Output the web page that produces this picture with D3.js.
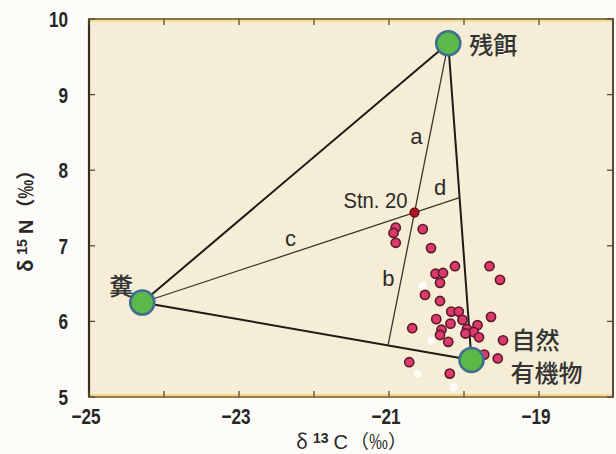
<!DOCTYPE html>
<html><head><meta charset="utf-8">
<script src="https://cdn.jsdelivr.net/npm/d3@7"></script>
<style>body{margin:0;background:#fdfcf9;} svg{display:block}</style>
</head><body>
<svg id="c" width="616" height="454"></svg>
<script>
// ---- data ----
const xTickValues = [-25, -24, -23, -22, -21, -20, -19];
const xLabelValues = [-25, -23, -21, -19];
const yTickValues = [5, 6, 7, 8, 9, 10];
const endNames = ["残餌", "糞", "自然有機物"];
const endX = [-20.21, -24.29, -19.90];
const endY = [9.68, 6.25, 5.49];
const stnName = "Stn. 20";
const stnX = [-20.66];
const stnY = [7.44];
const sampleX = [-20.91, -20.94, -20.91, -20.55, -20.44, -20.12, -19.66, -19.52, -20.38, -20.28,
                 -20.32, -20.52, -20.32, -20.17, -20.07, -19.64, -20.37, -20.18, -20.02, -19.82,
                 -20.69, -20.30, -20.32, -19.96, -19.87, -19.98, -19.80, -20.21, -19.48, -19.73,
                 -19.55, -20.73, -20.19];
const sampleY = [7.24, 7.17, 7.04, 7.22, 6.97, 6.73, 6.73, 6.55, 6.63, 6.64,
                 6.51, 6.35, 6.27, 6.13, 6.13, 6.06, 6.03, 5.97, 6.02, 5.95,
                 5.91, 5.89, 5.82, 5.90, 5.86, 5.84, 5.79, 5.73, 5.75, 5.56,
                 5.51, 5.46, 5.31];
const faintX = [-20.55, -20.43, -20.62, -20.14];
const faintY = [6.47, 5.74, 5.31, 5.13];
const segLabels = ["a", "b", "c", "d"];
const xTitle = ["δ", "13", "C", "（‰）"];
const yTitle = ["δ", "15", "N", "（‰）"];

// ---- scales ----
const x = d3.scaleLinear().domain([-25, -18]).range([89, 614]);
const y = d3.scaleLinear().domain([5, 10]).range([397, 19]);

const svg = d3.select("#c");
const numFont = "'Liberation Sans',Arial,sans-serif";
const cjkFont = "'Noto Sans CJK JP','Noto Sans CJK SC',sans-serif";

// plot frame
const x0 = x(-25), x1 = x(-18) - 1, y0 = y(10), y1 = y(5);
svg.append("rect").attr("x", x0).attr("y", y0).attr("width", x1 - x0).attr("height", y1 - y0)
  .attr("fill", "#f6edd6");
svg.append("line").attr("x1", x0).attr("x2", x1).attr("y1", y0 + 2).attr("y2", y0 + 2).attr("stroke", "#f0dc8a").attr("stroke-width", 1.5);
svg.append("line").attr("x1", x0).attr("x2", x1).attr("y1", y1 - 2).attr("y2", y1 - 2).attr("stroke", "#ecd57e").attr("stroke-width", 1.5);
svg.append("line").attr("x1", x0 - 1).attr("x2", x1 + 1).attr("y1", y0).attr("y2", y0).attr("stroke", "#8d7444").attr("stroke-width", 2.2);
svg.append("line").attr("x1", x0 - 1).attr("x2", x1 + 1).attr("y1", y1).attr("y2", y1).attr("stroke", "#9a8048").attr("stroke-width", 2.2);
svg.append("line").attr("x1", x0).attr("x2", x0).attr("y1", y0).attr("y2", y1).attr("stroke", "#3a2c1c").attr("stroke-width", 2.2);
svg.append("line").attr("x1", x1).attr("x2", x1).attr("y1", y0).attr("y2", y1).attr("stroke", "#4a3c28").attr("stroke-width", 1.8);

// ticks (inward on all four sides)
const tk = 6;
const tg = svg.append("g").attr("stroke", "#5a4a30").attr("stroke-width", 1.3);
xTickValues.forEach(v => {
  tg.append("line").attr("x1", x(v)).attr("x2", x(v)).attr("y1", y0).attr("y2", y0 + tk);
  tg.append("line").attr("x1", x(v)).attr("x2", x(v)).attr("y1", y1).attr("y2", y1 - tk);
});
yTickValues.forEach(v => {
  tg.append("line").attr("x1", x0).attr("x2", x0 + tk).attr("y1", y(v)).attr("y2", y(v));
  tg.append("line").attr("x1", x1).attr("x2", x1 - tk).attr("y1", y(v)).attr("y2", y(v));
});

// tick labels (condensed look)
svg.append("g").selectAll("text").data(xLabelValues).join("text")
  .attr("transform", d => `translate(${x(d) - 3},424) scale(0.78,1)`).attr("text-anchor", "middle")
  .attr("font-family", numFont).attr("font-size", 22).attr("font-weight", "bold").attr("fill", "#262626")
  .text(d => "−" + Math.abs(d));
svg.append("g").selectAll("text").data(yTickValues).join("text")
  .attr("transform", d => `translate(68,${y(d) + 8}) scale(0.78,1)`).attr("text-anchor", "end")
  .attr("font-family", numFont).attr("font-size", 22).attr("font-weight", "bold").attr("fill", "#262626")
  .text(d => d);

// axis titles
function title(sel, parts) {
  sel.append("tspan").attr("font-family", cjkFont).attr("font-size", 20).text(parts[0]);
  sel.append("tspan").attr("dx", 5).attr("dy", -6).attr("font-size", 14).attr("font-weight", "bold").text(parts[1]);
  sel.append("tspan").attr("dx", 5).attr("dy", 6).attr("font-size", 20).text(parts[2]);
  sel.append("tspan").attr("dx", 2).attr("font-family", cjkFont).attr("font-size", 19).text(parts[3]);
}
const xt = svg.append("text").attr("x", 296).attr("y", 449)
  .attr("font-family", numFont).attr("fill", "#2a2a2a");
title(xt, xTitle);
const yt = svg.append("text").attr("transform", "translate(33,272) rotate(-90)")
  .attr("font-family", numFont).attr("font-weight", "bold").attr("fill", "#2a2a2a");
title(yt, yTitle);

// ---- geometry of mixing lines ----
const P = endX.map((v, i) => [v, endY[i]]);
const S = [stnX[0], stnY[0]];
function intersect(a, b, c, d) {
  const den = (a[0] - b[0]) * (c[1] - d[1]) - (a[1] - b[1]) * (c[0] - d[0]);
  const t = ((a[0] - c[0]) * (c[1] - d[1]) - (a[1] - c[1]) * (c[0] - d[0])) / den;
  return [a[0] + t * (b[0] - a[0]), a[1] + t * (b[1] - a[1])];
}
const footB = intersect(P[0], S, P[1], P[2]);  // from 残餌 through Stn to opposite side
const footD = intersect(P[1], S, P[0], P[2]);  // from 糞 through Stn to opposite side
const line = d3.line().x(d => x(d[0])).y(d => y(d[1]));

// triangle
svg.append("path").attr("d", line([P[0], P[1], P[2], P[0]]))
  .attr("fill", "none").attr("stroke", "#1e1a16").attr("stroke-width", 2).attr("stroke-linejoin", "round");
// inner lines
svg.append("path").attr("d", line([P[0], footB])).attr("fill", "none").attr("stroke", "#3a3530").attr("stroke-width", 1.3);
svg.append("path").attr("d", line([P[1], footD])).attr("fill", "none").attr("stroke", "#3a3530").attr("stroke-width", 1.3);

// segment labels
const mid = (p, q) => [(x(p[0]) + x(q[0])) / 2, (y(p[1]) + y(q[1])) / 2];
const segs = [[P[0], S, -15, 9], [S, footB, -13, 0], [P[1], S, 12, -19], [S, footD, 3, -17]];
svg.append("g").selectAll("text").data(segs).join("text")
  .attr("x", d => mid(d[0], d[1])[0] + d[2]).attr("y", d => mid(d[0], d[1])[1] + d[3] + 7)
  .attr("text-anchor", "middle").attr("font-family", "'Liberation Sans',Arial,sans-serif")
  .attr("font-size", 22).attr("fill", "#2a2a2a")
  .text((d, i) => segLabels[i]);

// faint white samples
svg.append("g").selectAll("circle").data(faintX).join("circle")
  .attr("cx", d => x(d)).attr("cy", (d, i) => y(faintY[i])).attr("r", 4)
  .attr("fill", "#ffffff").attr("opacity", 0.85);

// samples
svg.append("g").selectAll("circle").data(sampleX).join("circle")
  .attr("cx", d => x(d)).attr("cy", (d, i) => y(sampleY[i])).attr("r", 4.6)
  .attr("fill", "#dc3a6a").attr("stroke", "#5a1a2c").attr("stroke-width", 1.6);

// Stn. 20
svg.append("circle").attr("cx", x(S[0])).attr("cy", y(S[1])).attr("r", 4.5)
  .attr("fill", "#b0141c").attr("stroke", "#5a0c10").attr("stroke-width", 1.2);
svg.append("text").attr("transform", `translate(${x(S[0]) - 7},${y(S[1]) - 5}) scale(0.92,1)`).attr("text-anchor", "end")
  .attr("font-family", numFont).attr("font-size", 22).attr("fill", "#2a2a2a").text(stnName);

// end members
svg.append("g").selectAll("circle").data(P).join("circle")
  .attr("cx", d => x(d[0])).attr("cy", d => y(d[1])).attr("r", 12)
  .attr("fill", "#5cb848").attr("stroke", "#3d6f92").attr("stroke-width", 2.6);

const lab = svg.append("g").attr("font-family", cjkFont).attr("font-size", 24)
  .attr("font-weight", 500).attr("fill", "#333");
lab.append("text").attr("x", x(P[0][0]) + 21).attr("y", y(P[0][1]) + 11).text(endNames[0]);
lab.append("text").attr("x", x(P[1][0]) - 21).attr("y", y(P[1][1]) - 8).attr("text-anchor", "middle").text(endNames[1]);
lab.append("text").attr("x", x(P[2][0]) + 40).attr("y", y(P[2][1]) - 11).text(endNames[2].slice(0, 2));
lab.append("text").attr("x", x(P[2][0]) + 39).attr("y", y(P[2][1]) + 22).text(endNames[2].slice(2));
</script>
</body></html>
